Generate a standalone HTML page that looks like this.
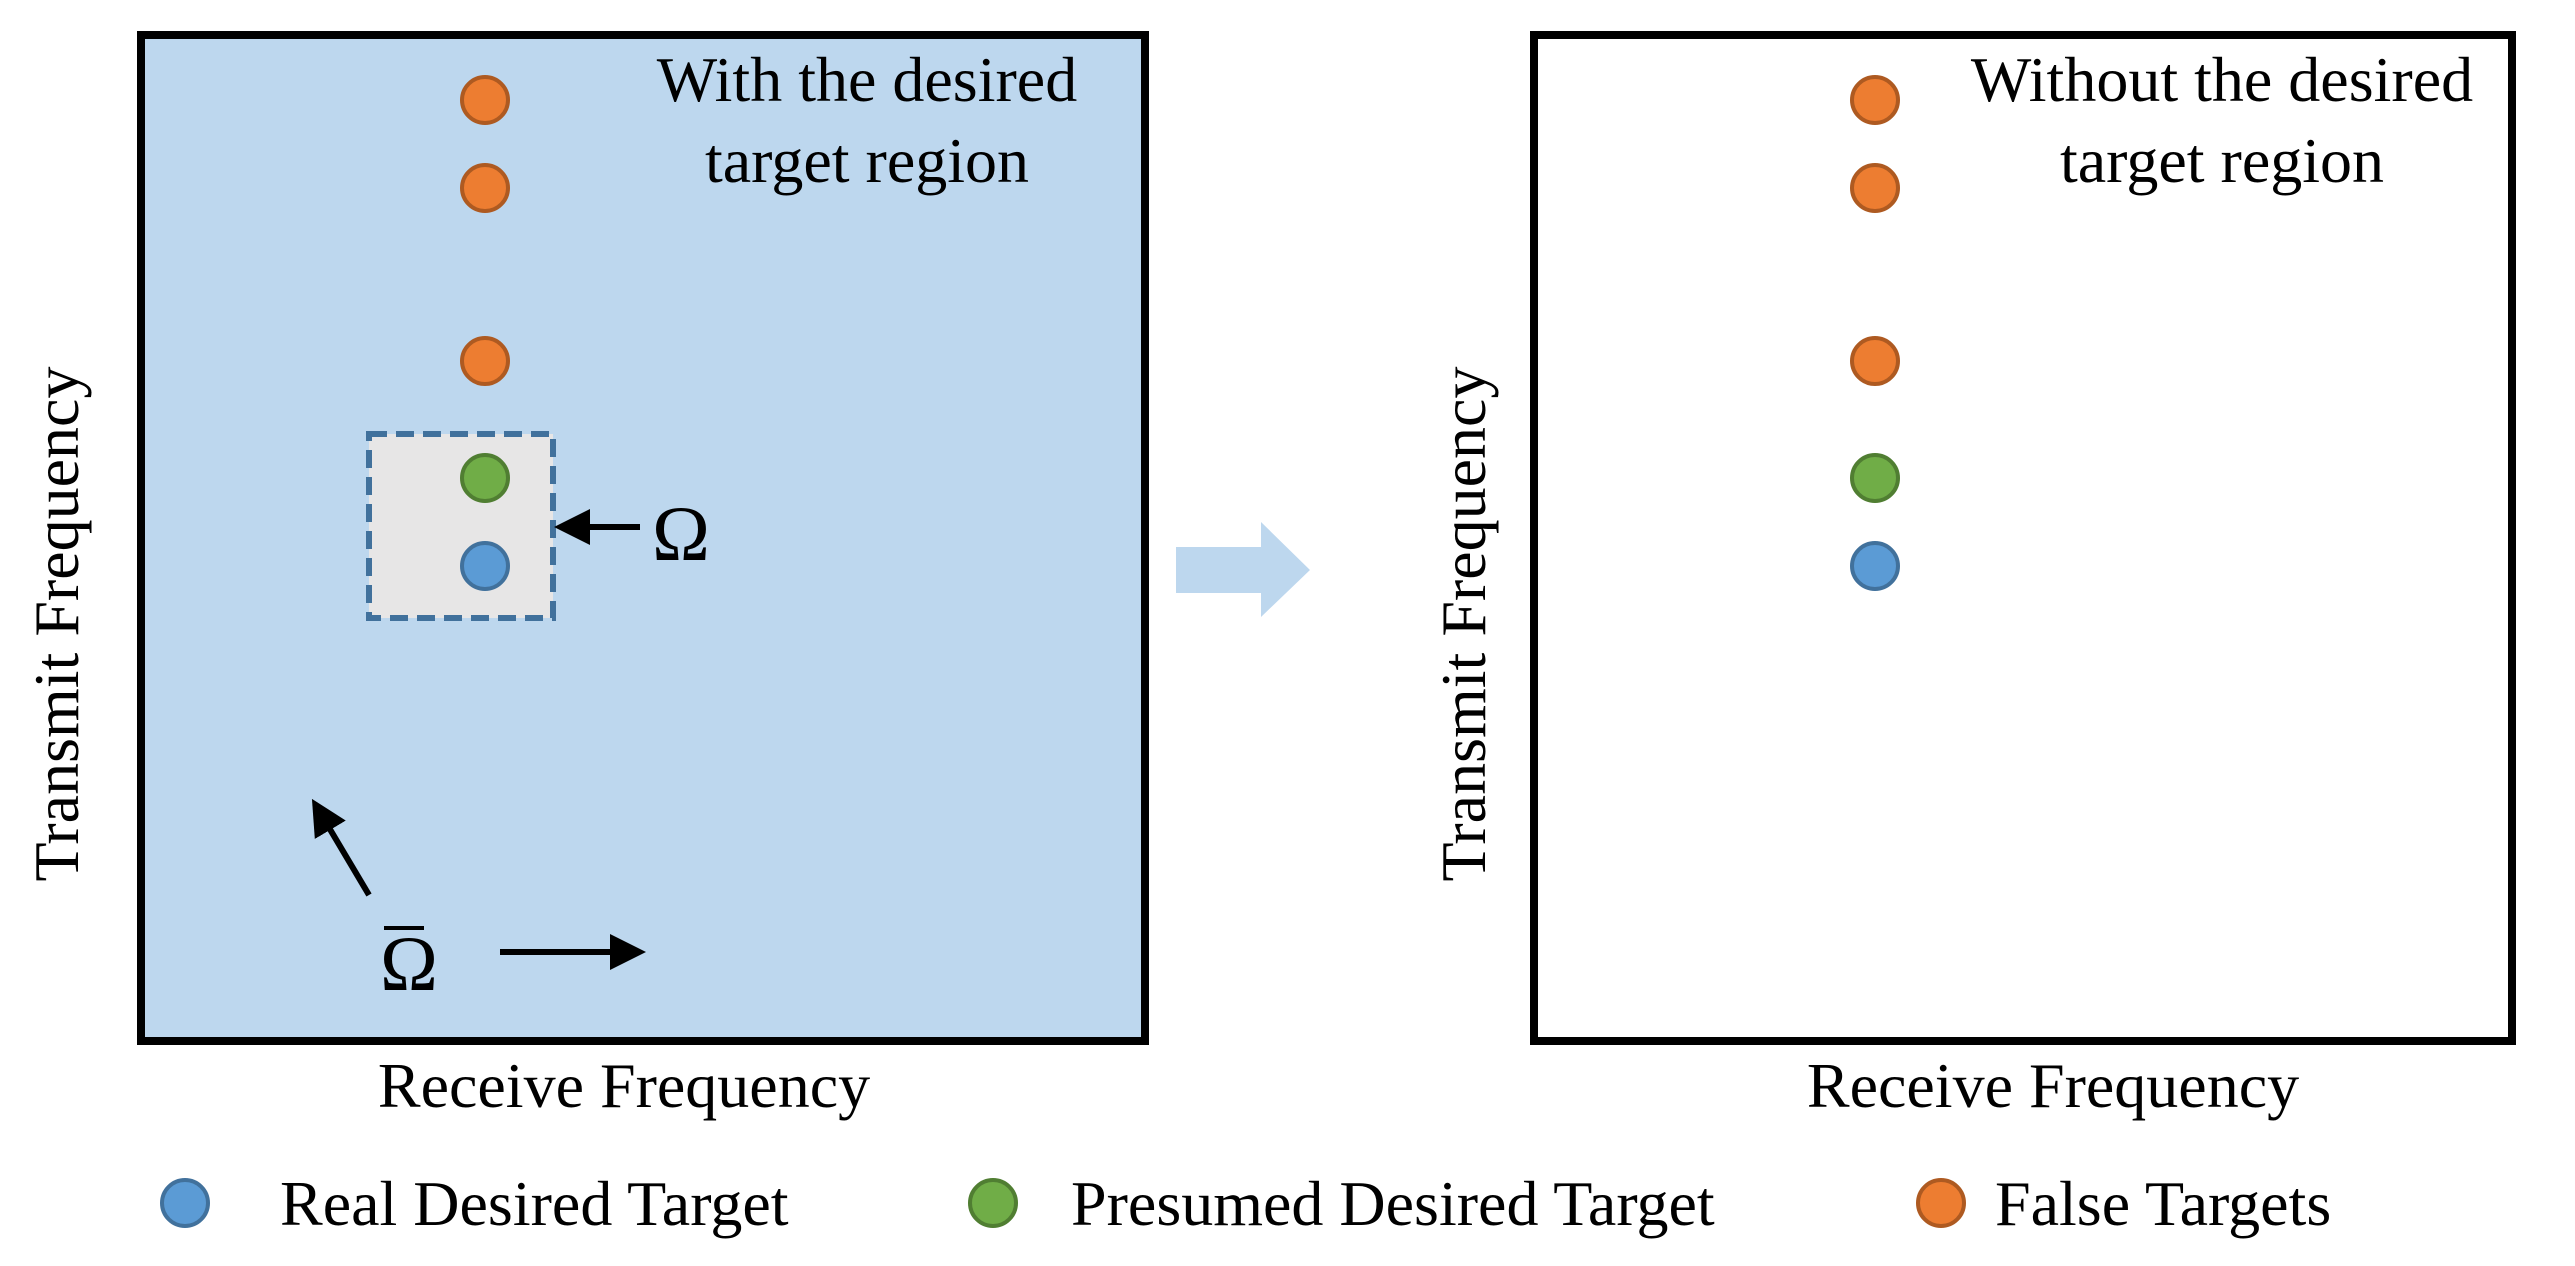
<!DOCTYPE html>
<html><head><meta charset="utf-8"><style>
html,body{margin:0;padding:0;background:#fff;}
svg{display:block;}
text{font-family:"Liberation Serif",serif;fill:#000;}
</style></head><body>
<svg width="2575" height="1266" viewBox="0 0 2575 1266" xmlns="http://www.w3.org/2000/svg">
<defs>
<marker id="ah" markerWidth="6" markerHeight="6" refX="5" refY="3" orient="auto" markerUnits="strokeWidth">
<path d="M0,0 L6,3 L0,6 Z" fill="#000"/></marker>
</defs>
<!-- left panel -->
<rect x="141" y="35" width="1004" height="1006" fill="#bdd7ee" stroke="#000" stroke-width="8"/>
<rect x="369" y="434" width="184" height="184" fill="#e7e6e6" stroke="#41719c" stroke-width="6" stroke-dasharray="18,9"/>
<g stroke-width="4">
<circle cx="485" cy="100" r="23" fill="#ed7d31" stroke="#ae5a21"/>
<circle cx="485" cy="188" r="23" fill="#ed7d31" stroke="#ae5a21"/>
<circle cx="485" cy="361" r="23" fill="#ed7d31" stroke="#ae5a21"/>
<circle cx="485" cy="478" r="23" fill="#70ad47" stroke="#507e32"/>
<circle cx="485" cy="566" r="23" fill="#5b9bd5" stroke="#41719c"/>
</g>
<text x="867" y="101" font-size="64" text-anchor="middle">With the desired</text>
<text x="867" y="182" font-size="64" text-anchor="middle">target region</text>
<line x1="640" y1="527" x2="560" y2="527" stroke="#000" stroke-width="6" marker-end="url(#ah)"/>
<text x="652" y="560" font-size="78">Ω</text>
<line x1="369" y1="895" x2="315" y2="804" stroke="#000" stroke-width="6" marker-end="url(#ah)"/>
<line x1="500" y1="952" x2="640" y2="952" stroke="#000" stroke-width="6" marker-end="url(#ah)"/>
<text x="380" y="990" font-size="78">Ω</text>
<line x1="384" y1="928" x2="424" y2="928" stroke="#000" stroke-width="4"/>
<text x="624" y="1107" font-size="64" text-anchor="middle">Receive Frequency</text>
<text transform="translate(78,624) rotate(-90)" font-size="64" text-anchor="middle">Transmit Frequency</text>
<!-- big arrow -->
<path d="M1176,547 L1261,547 L1261,522 L1310,570 L1261,617 L1261,593 L1176,593 Z" fill="#bdd7ee"/>
<!-- right panel -->
<rect x="1534" y="35" width="978" height="1006" fill="#fff" stroke="#000" stroke-width="8"/>
<g stroke-width="4">
<circle cx="1875" cy="100" r="23" fill="#ed7d31" stroke="#ae5a21"/>
<circle cx="1875" cy="188" r="23" fill="#ed7d31" stroke="#ae5a21"/>
<circle cx="1875" cy="361" r="23" fill="#ed7d31" stroke="#ae5a21"/>
<circle cx="1875" cy="478" r="23" fill="#70ad47" stroke="#507e32"/>
<circle cx="1875" cy="566" r="23" fill="#5b9bd5" stroke="#41719c"/>
</g>
<text x="2222" y="101" font-size="64" text-anchor="middle">Without the desired</text>
<text x="2222" y="182" font-size="64" text-anchor="middle">target region</text>
<text x="2053" y="1107" font-size="64" text-anchor="middle">Receive Frequency</text>
<text transform="translate(1485,624) rotate(-90)" font-size="64" text-anchor="middle">Transmit Frequency</text>
<!-- legend -->
<g stroke-width="4">
<circle cx="185" cy="1203" r="23" fill="#5b9bd5" stroke="#41719c"/>
<circle cx="993" cy="1203" r="23" fill="#70ad47" stroke="#507e32"/>
<circle cx="1941" cy="1203" r="23" fill="#ed7d31" stroke="#ae5a21"/>
</g>
<text x="280" y="1225" font-size="64">Real Desired Target</text>
<text x="1071" y="1225" font-size="64">Presumed Desired Target</text>
<text x="1995" y="1225" font-size="64">False Targets</text>
</svg>
</body></html>
